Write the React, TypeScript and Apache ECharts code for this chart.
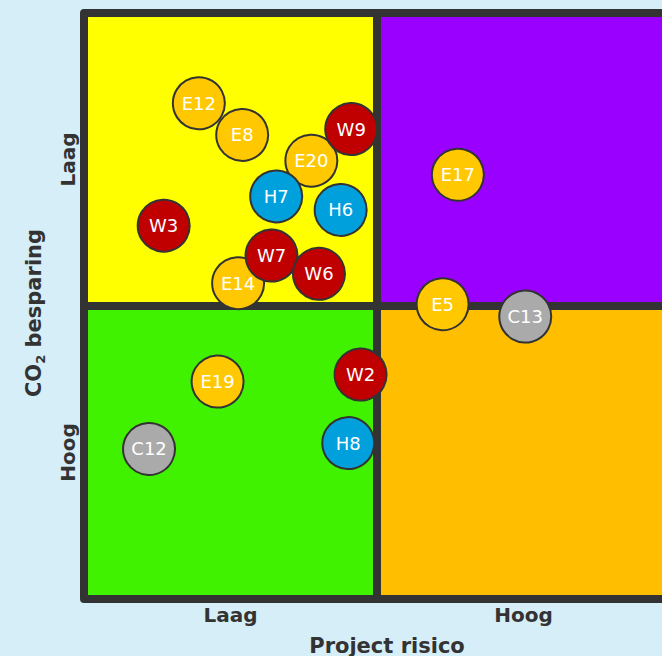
import React, { useEffect, useRef } from "react";
import * as echarts from "echarts";

// Quadrants (axis units, 0..10 on both axes)
const quadX0 = [0, 5, 0, 5];
const quadX1 = [5, 10, 5, 10];
const quadY0 = [5, 5, 0, 0];
const quadY1 = [10, 10, 5, 5];
const quadColors = ["#FFFF00", "#9900FF", "#40F200", "#FFBF00"];

// Tick labels
const xTickValues = [2.5, 7.5];
const xTickLabels = ["Laag", "Hoog"];
const yTickValues = [2.5, 7.5];
const yTickLabels = ["Hoog", "Laag"];

// Bubbles per group
const cNames = ["C13", "C12"];
const cX = [7.53, 1.11];
const cY = [4.82, 2.56];

const eNames = ["E12", "E8", "E20", "E17", "E14", "E5", "E19"];
const eX = [1.96, 2.7, 3.88, 6.38, 2.63, 6.12, 2.28];
const eY = [8.46, 7.92, 7.48, 7.24, 5.39, 5.03, 3.71];

const hNames = ["H7", "H6", "H8"];
const hX = [3.28, 4.38, 4.51];
const hY = [6.87, 6.64, 2.66];

const wNames = ["W9", "W3", "W7", "W6", "W2"];
const wX = [4.56, 1.36, 3.2, 4.01, 4.72];
const wY = [8.02, 6.37, 5.86, 5.55, 3.83];

const groupColors = { C: "#AAAAAA", E: "#FFC800", H: "#00A0DC", W: "#C00000" };

function bubbleSeries(names: string[], xs: number[], ys: number[], color: string) {
  return {
    type: "scatter",
    symbol: "circle",
    symbolSize: 52,
    clip: false,
    silent: true,
    z: 3,
    itemStyle: { color, borderColor: "#333333", borderWidth: 2, opacity: 1 },
    label: {
      show: true,
      position: "inside",
      formatter: (p: any) => p.name,
      color: "#FFFFFF",
      fontSize: 18,
      fontFamily: "DejaVu Sans",
      fontWeight: "normal",
    },
    emphasis: { disabled: true },
    data: names.map((n, i) => ({ name: n, value: [xs[i], ys[i]] })),
  };
}

export default function App() {
  const ref = useRef<HTMLDivElement>(null);
  useEffect(() => {
    document.body.style.margin = "0";
    document.body.style.overflow = "hidden";
    document.body.style.background = "#D6EEF8";
    if (!ref.current) return;
    const chart = echarts.init(ref.current, null, { renderer: "svg" });
    const axisFont = {
      color: "#333333",
      fontSize: 20,
      fontWeight: "bold" as const,
      fontFamily: "DejaVu Sans",
    };
    chart.setOption({
      animation: false,
      backgroundColor: "#D6EEF8",
      grid: {
        left: 84,
        top: 13,
        width: 586,
        height: 586,
        containLabel: false,
        outerBoundsMode: "none",
      },
      xAxis: {
        type: "value",
        min: 0,
        max: 10,
        interval: 2.5,
        axisLine: { show: false },
        axisTick: { show: false },
        splitLine: { show: false },
        axisLabel: {
          ...axisFont,
          margin: 6,
          formatter: (v: number) => {
            const i = xTickValues.indexOf(v);
            return i >= 0 ? xTickLabels[i] : "";
          },
        },
        name: "Project risico",
        nameLocation: "middle",
        nameGap: 36,
        nameTextStyle: { ...axisFont, fontSize: 21, padding: [0, 0, 0, 20] },
      },
      yAxis: {
        type: "value",
        min: 0,
        max: 10,
        interval: 2.5,
        axisLine: { show: false },
        axisTick: { show: false },
        splitLine: { show: false },
        axisLabel: {
          ...axisFont,
          rotate: 90,
          margin: 6,
          formatter: (v: number) => {
            const i = yTickValues.indexOf(v);
            return i >= 0 ? yTickLabels[i] : "";
          },
        },
        name: "{a|CO}{s|2}{a| besparing}",
        nameLocation: "middle",
        nameGap: 37,
        nameTextStyle: {
          padding: [0, 14, 0, 0],
          rich: {
            a: { ...axisFont, fontSize: 21, lineHeight: 26 },
            s: { ...axisFont, fontSize: 13, lineHeight: 13, verticalAlign: "bottom" },
          },
        },
      },
      series: [
        {
          type: "custom",
          clip: false,
          silent: true,
          z: 1,
          data: quadX0.map((x0, i) => [x0, quadY0[i], quadX1[i], quadY1[i], i]),
          renderItem: (params: any, api: any) => {
            const p0 = api.coord([api.value(0), api.value(3)]);
            const p1 = api.coord([api.value(2), api.value(1)]);
            return {
              type: "rect",
              shape: { x: p0[0], y: p0[1], width: p1[0] - p0[0], height: p1[1] - p0[1] },
              style: {
                fill: quadColors[api.value(4)],
                stroke: "#333333",
                lineWidth: 8,
                lineJoin: "round",
              },
            };
          },
        },
        bubbleSeries(cNames, cX, cY, groupColors.C),
        bubbleSeries(eNames, eX, eY, groupColors.E),
        bubbleSeries(hNames, hX, hY, groupColors.H),
        bubbleSeries(wNames, wX, wY, groupColors.W),
      ],
    });
    return () => chart.dispose();
  }, []);
  return <div ref={ref} style={{ width: 662, height: 656 }} />;
}
